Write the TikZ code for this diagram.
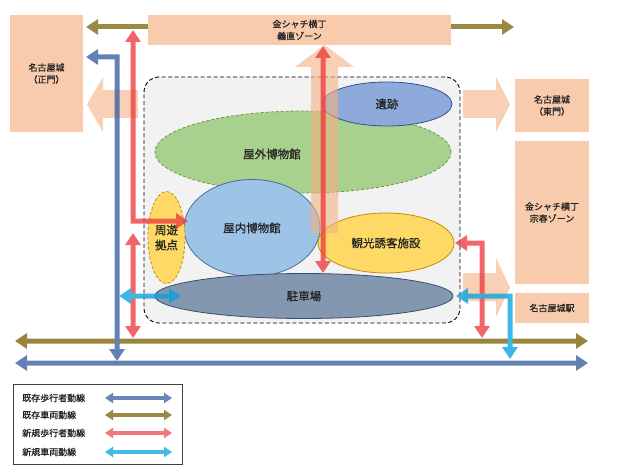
\documentclass[tikz,border=0pt]{standalone}
\usepackage{fontspec}
\setmainfont{Noto Sans CJK JP}[FakeBold=0.7]
\usetikzlibrary{shapes.geometric,arrows.meta}
\definecolor{peach}{RGB}{248,203,173}
\definecolor{peachA}{RGB}{244,177,131}
\definecolor{areafill}{RGB}{242,242,242}
% target colours (on white)
\definecolor{pedT}{RGB}{106,134,184}
\definecolor{carT}{RGB}{155,138,70}
\definecolor{npedT}{RGB}{240,120,125}
\definecolor{ncarT}{RGB}{70,185,230}
% base colours for transparency group
\definecolor{pedB}{RGB}{56,94,160}
\definecolor{carB}{RGB}{122,99,8}
\definecolor{npedB}{RGB}{235,60,62}
\definecolor{ncarB}{RGB}{8,162,222}
\definecolor{greenF}{RGB}{169,209,142}
\definecolor{greenD}{RGB}{112,150,85}
\definecolor{isekiF}{RGB}{142,170,219}
\definecolor{isekiD}{RGB}{47,82,143}
\definecolor{okunaiF}{RGB}{157,195,230}
\definecolor{okunaiD}{RGB}{65,113,156}
\definecolor{yellowF}{RGB}{255,217,102}
\definecolor{yellowD}{RGB}{191,144,0}
\definecolor{parkF}{RGB}{132,151,176}
\definecolor{parkD}{RGB}{59,78,107}
\definecolor{txt}{RGB}{35,35,35}
\tikzset{
  boxnode/.style={fill=peach, inner sep=0pt, align=center, text=txt, font=\fontsize{9}{12}\selectfont},
  ellnode/.style={ellipse, inner sep=0pt, align=center, line width=0.8pt, text=txt, font=\fontsize{11.5}{15}\selectfont},
  blockarrow/.style={fill=peachA, fill opacity=0.6},
  flow/.style={line width=5pt, >={Triangle[width=15pt,length=12pt]}},
  legflow/.style={line width=3.5pt, >={Triangle[width=10pt,length=8pt]}},
  legtext/.style={anchor=west, inner sep=0pt, text=txt, font=\fontsize{9}{11}\selectfont}
}
\begin{document}
\begin{tikzpicture}[x=1pt,y=-1pt]
\useasboundingbox (0,0) rectangle (636,473);
% study area
\node[draw, dash pattern=on 4pt off 2.5pt, line width=0.9pt, rounded corners=15pt, fill=areafill,
      minimum width=316pt, minimum height=246pt, inner sep=0pt] (area) at (302,200) {};
% top olive line behind boxes
\coordinate (ctL) at (86,27);
\coordinate (ctR) at (514,27);
\draw[flow, carT, <->] (ctL) -- (ctR);
% boxes
\node[boxnode, minimum width=73pt, minimum height=117pt] (seimon) at (46.5,73.5) {名古屋城\\（正門）};
\node[boxnode, minimum width=303pt, minimum height=30pt] (gishoku) at (299.5,30) {金シャチ横丁\\義直ゾーン};
\node[boxnode, minimum width=74pt, minimum height=53pt] (tomon) at (552,105.5) {名古屋城\\（東門）};
\node[boxnode, minimum width=74pt, minimum height=142pt] (soshun) at (552,212.5) {金シャチ横丁\\宗春ゾーン};
\node[boxnode, minimum width=74pt, minimum height=30pt] (eki) at (552,308) {名古屋城駅};
% ellipses
\node[ellnode, draw=greenD, dash pattern=on 3pt off 2pt, fill=greenF, minimum width=296pt, minimum height=82pt] (okugai) at (303,152) {};
\node[inner sep=0pt, text=txt, font=\fontsize{11.5}{15}\selectfont] (okugaiT) at (272,154) {屋外博物館};
\node[ellnode, draw=isekiD, fill=isekiF, minimum width=130pt, minimum height=44pt] (iseki) at (387,104) {遺跡};
\node[ellnode, draw=okunaiD, fill=okunaiF, minimum width=136pt, minimum height=97pt] (okunai) at (252,228) {屋内博物館};
\node[ellnode, draw=yellowD, dash pattern=on 3pt off 2pt, fill=yellowF, minimum width=37pt, minimum height=92pt] (shuyu) at (166.5,237.5) {周遊\\拠点};
\node[ellnode, draw=yellowD, fill=yellowF, minimum width=136pt, minimum height=60pt] (kanko) at (386,243) {観光誘客施設};
\node[ellnode, draw=parkD, fill=parkF, minimum width=298pt, minimum height=45pt] (chusha) at (304,296) {駐車場};
% block arrows (semi-transparent)
\fill[blockarrow] (138,90) -- (103,90) -- (103,77) -- (87,104.5) -- (103,132) -- (103,118) -- (138,118) -- cycle;
\fill[blockarrow] (311,233) -- (311,67) -- (295,67) -- (324.5,45) -- (354,67) -- (338,67) -- (338,233) -- cycle;
\fill[blockarrow] (463,90) -- (496,90) -- (496,77) -- (510,104.5) -- (496,132) -- (496,118) -- (463,118) -- cycle;
\fill[blockarrow] (463,273) -- (496,273) -- (496,258) -- (510,287.5) -- (496,317) -- (496,301) -- (463,301) -- cycle;
% flow coordinates
\coordinate (oL) at (15,341);  \coordinate (oR) at (588,341);
\coordinate (bL) at (15,363);  \coordinate (bR) at (588,363);
\coordinate (pv1) at (86,57);  \coordinate (pv2) at (117,57); \coordinate (pv3) at (117,361);
\coordinate (nu1) at (133,30); \coordinate (nu2) at (133,221); \coordinate (nu3) at (188,221);
\coordinate (nl1) at (133,233); \coordinate (nl2) at (133,338);
\coordinate (cl1) at (119,296); \coordinate (cl2) at (181,296);
\coordinate (rc1) at (323,46); \coordinate (rc2) at (323,273);
\coordinate (rr1) at (455,243); \coordinate (rr2) at (482,243); \coordinate (rr3) at (482,338);
\coordinate (cr1) at (456,296); \coordinate (cr2) at (510,296); \coordinate (cr3) at (510,359);
\begin{scope}[transparency group, opacity=0.78]
\draw[flow, carB, <->] (oL) -- (oR);
\draw[flow, pedB, <->] (bL) -- (bR);
\draw[flow, npedB, <->] (nl1) -- (nl2);
\draw[flow, npedB, <->] (rr1) -- (rr2) -- (rr3);
\draw[flow, pedB, <->] (pv1) -- (pv2) -- (pv3);
\draw[flow, npedB, <->] (nu1) -- (nu2) -- (nu3);
\draw[flow, npedB, <->] (rc1) -- (rc2);
\draw[flow, ncarB, <->] (cl1) -- (cl2);
\draw[flow, ncarB, <->] (cr1) -- (cr2) -- (cr3);
\end{scope}
% legend
\node[draw=black!75, line width=0.7pt, fill=white, minimum width=169pt, minimum height=80pt, inner sep=0pt, anchor=north west] (legend) at (13,384) {};
\node[legtext] (l1) at (22,398) {既存歩行者動線};
\node[legtext] (l2) at (22,415) {既存車両動線};
\node[legtext] (l3) at (22,433) {新規歩行者動線};
\node[legtext] (l4) at (22,452) {新規車両動線};
\coordinate (a1) at (105,398); \coordinate (b1) at (172,398);
\coordinate (a2) at (105,415); \coordinate (b2) at (172,415);
\coordinate (a3) at (105,433); \coordinate (b3) at (172,433);
\coordinate (a4) at (105,452); \coordinate (b4) at (172,452);
\draw[legflow, pedT, <->] (a1) -- (b1);
\draw[legflow, carT, <->] (a2) -- (b2);
\draw[legflow, npedT, <->] (a3) -- (b3);
\draw[legflow, ncarT, <->] (a4) -- (b4);
\end{tikzpicture}
\end{document}
